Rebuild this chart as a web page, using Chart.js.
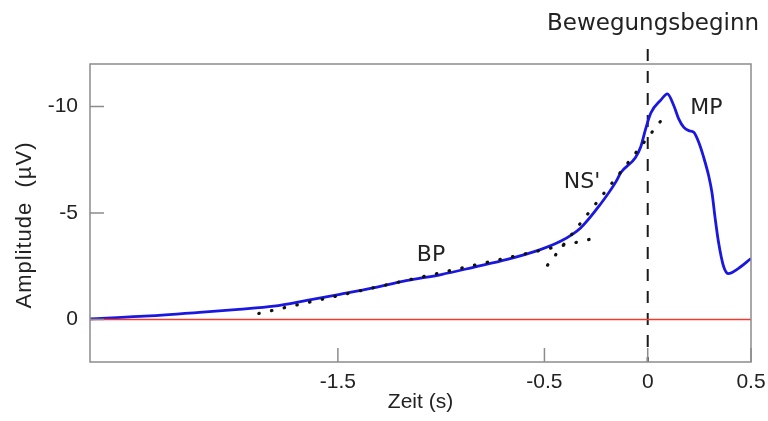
<!DOCTYPE html>
<html>
<head>
<meta charset="utf-8">
<script src="https://cdn.jsdelivr.net/npm/chart.js@4/dist/chart.umd.min.js"></script>
<style>
  html, body { margin: 0; padding: 0; background: #fff; }
  #wrap { width: 768px; height: 421px; position: relative; }
</style>
</head>
<body>
<div id="wrap"><canvas id="c"></canvas></div>
<script>
// Grand-average movement-related cortical potential (negative up)
const timeSec = [-2.70, -2.46, -2.17, -1.98, -1.81, -1.65, -1.49, -1.33, -1.17, -1.00,
                 -0.84, -0.68, -0.52, -0.42, -0.325, -0.23, -0.155, -0.13, -0.06, -0.034,
                 -0.01, 0.015, 0.063, 0.095, 0.126, 0.150, 0.175, 0.199, 0.223, 0.247,
                 0.271, 0.295, 0.311, 0.327, 0.343, 0.367, 0.391, 0.431, 0.50];
const amplitudeUV = [-0.03, -0.14, -0.33, -0.47, -0.62, -0.89, -1.18, -1.48, -1.82, -2.11,
                     -2.46, -2.82, -3.28, -3.68, -4.3, -5.4, -6.45, -6.9, -7.6, -8.1,
                     -8.95, -9.7, -10.3, -10.6, -10.05, -9.42, -9.02, -8.87, -8.79, -8.32,
                     -7.61, -6.75, -5.96, -4.71, -3.61, -2.50, -2.15, -2.34, -2.86];

// Linear slope fits of the two pre-movement components
const bpFitTime = [-1.883, -0.277];
const bpFitAmp = [-0.28, -3.77];
const nsFitTime = [-0.485, 0.063];
const nsFitAmp = [-2.55, -9.32];

// Baseline and movement onset marker
const baselineTime = [-2.7, 0.5];
const baselineAmp = [0, 0];
const onsetTime = [0, 0];
const onsetAmp = [-12.7, 2];

// Axes
const xTickValues = [-1.5, -0.5, 0, 0.5];
const yTickValues = [-10, -5, 0];

// Component labels
const componentNames = ['BP', "NS'", 'MP'];
const componentTime = [-1.049, -0.318, 0.284];
const componentAmp = [-2.74, -6.19, -9.66];
const onsetLabel = 'Bewegungsbeginn';
const onsetLabelPos = [0.026, -13.58];

const pts = (xs, ys) => xs.map((x, i) => ({ x: x, y: ys[i] }));

const TICK_FONT = '"Liberation Sans", Arial, Helvetica, sans-serif';
const NOTE_FONT = '"DejaVu Sans", Verdana, sans-serif';

const decorations = {
  id: 'decorations',
  afterDatasetsDraw(chart) {
    const { ctx, chartArea: a, scales } = chart;
    const xs = scales.x, ys = scales.y;
    ctx.save();
    // frame
    ctx.strokeStyle = '#8c8c8c';
    ctx.lineWidth = 1.5;
    ctx.strokeRect(a.left, a.top, a.right - a.left, a.bottom - a.top);
    // inward tick marks
    ctx.beginPath();
    xTickValues.forEach(v => {
      const px = xs.getPixelForValue(v);
      ctx.moveTo(px, a.bottom);
      ctx.lineTo(px, a.bottom - 14);
    });
    yTickValues.forEach(v => {
      const py = ys.getPixelForValue(v);
      ctx.moveTo(a.left, py);
      ctx.lineTo(a.left + 14, py);
    });
    ctx.stroke();

    // component and onset labels
    ctx.fillStyle = '#222';
    ctx.textAlign = 'center';
    ctx.textBaseline = 'alphabetic';
    ctx.font = '22px ' + NOTE_FONT;
    componentNames.forEach((name, i) => {
      ctx.fillText(name, xs.getPixelForValue(componentTime[i]), ys.getPixelForValue(componentAmp[i]));
    });
    ctx.font = '23px ' + NOTE_FONT;
    ctx.fillText(onsetLabel, xs.getPixelForValue(onsetLabelPos[0]), ys.getPixelForValue(onsetLabelPos[1]));

    // axis titles
    ctx.font = '21px ' + TICK_FONT;
    ctx.fillText('Zeit (s)', (a.left + a.right) / 2, 408);
    ctx.translate(31, 225);
    ctx.rotate(-Math.PI / 2);
    ctx.font = '22px ' + TICK_FONT;
    if ('letterSpacing' in ctx) ctx.letterSpacing = '1px';
    ctx.fillText('Amplitude  (\u00b5V)', 0, 0);
    ctx.restore();
  }
};

new Chart(document.getElementById('c'), {
  type: 'line',
  data: {
    datasets: [
      {
        data: pts(baselineTime, baselineAmp),
        borderColor: '#f03a30', borderWidth: 1.6, pointRadius: 0
      },
      {
        data: pts(bpFitTime, bpFitAmp),
        borderColor: '#111', borderWidth: 3.2, borderDash: [0.5, 12.5],
        borderCapStyle: 'round', pointRadius: 0
      },
      {
        data: pts(nsFitTime, nsFitAmp),
        borderColor: '#111', borderWidth: 3.2, borderDash: [0.5, 12.5],
        borderCapStyle: 'round', pointRadius: 0
      },
      {
        data: pts(timeSec, amplitudeUV),
        borderColor: '#1a18e0', borderWidth: 2.8, pointRadius: 0,
        cubicInterpolationMode: 'monotone'
      },
      {
        data: pts(onsetTime, onsetAmp),
        borderColor: '#1a1a1a', borderWidth: 2, borderDash: [12, 10],
        pointRadius: 0, clip: false
      }
    ]
  },
  options: {
    responsive: true,
    maintainAspectRatio: false,
    animation: false,
    layout: { padding: { top: 64, right: 17, left: 0, bottom: 0 } },
    plugins: { legend: { display: false }, tooltip: { enabled: false } },
    scales: {
      x: {
        type: 'linear', min: -2.7, max: 0.5,
        grid: { display: false, drawTicks: false },
        border: { display: false },
        afterBuildTicks: s => { s.ticks = xTickValues.map(v => ({ value: v })); },
        afterFit: s => { s.height = 59; s.paddingLeft = 0; s.paddingRight = 0; },
        ticks: {
          padding: 8, color: '#222', maxRotation: 0,
          font: { family: TICK_FONT, size: 21 },
          callback: v => String(v)
        }
      },
      y: {
        type: 'linear', min: -12, max: 2, reverse: true,
        grid: { display: false, drawTicks: false },
        border: { display: false },
        afterBuildTicks: s => { s.ticks = yTickValues.map(v => ({ value: v })); },
        afterFit: s => { s.width = 90; s.paddingTop = 0; s.paddingBottom = 0; },
        ticks: {
          padding: 12, color: '#222',
          font: { family: TICK_FONT, size: 21 },
          callback: v => String(v)
        }
      }
    }
  },
  plugins: [decorations]
});
</script>
</body>
</html>
